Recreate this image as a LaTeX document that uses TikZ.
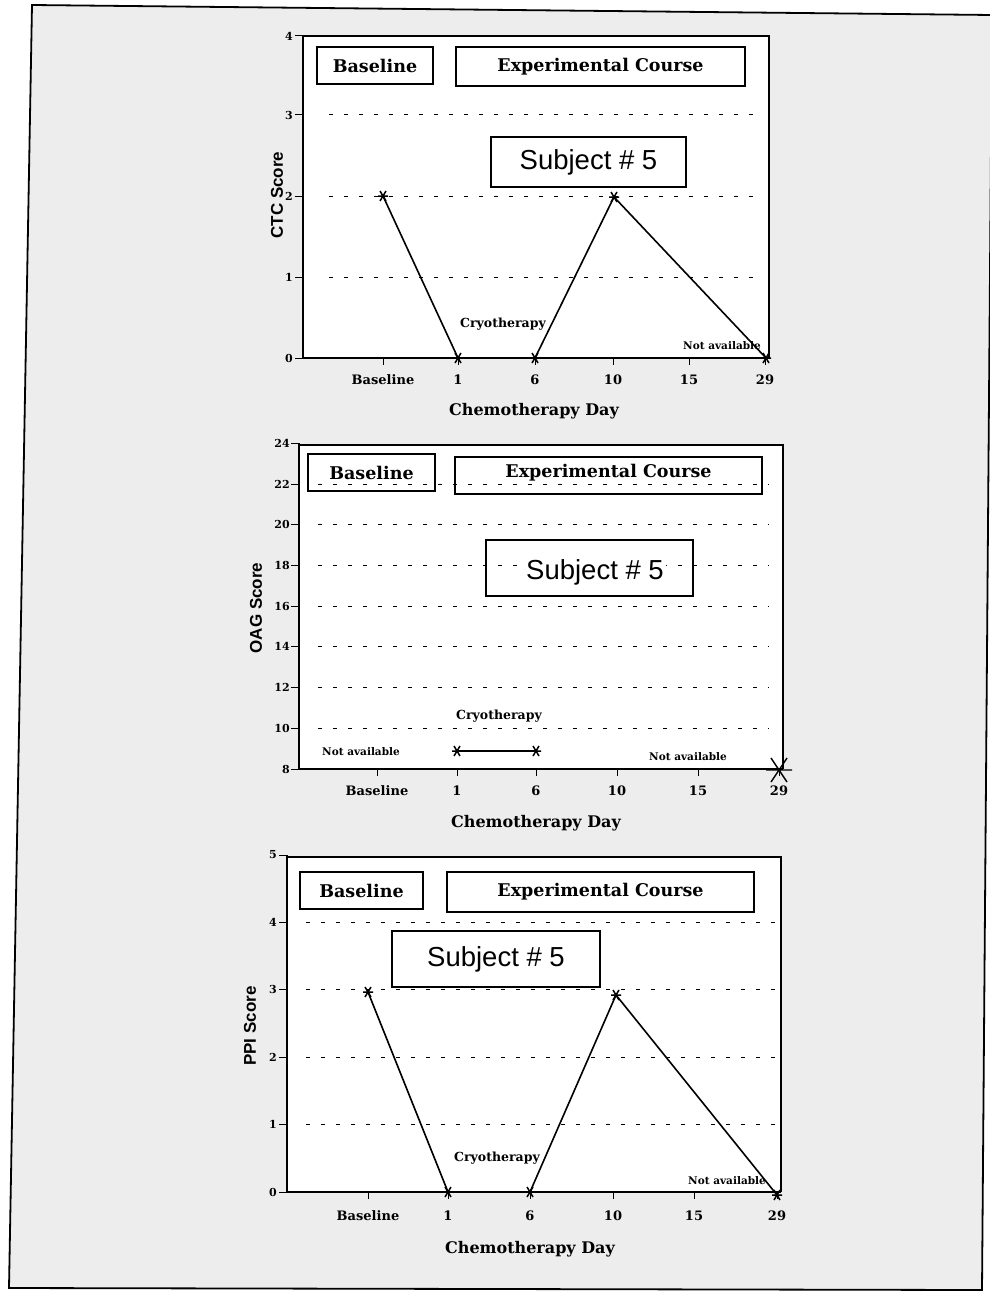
\documentclass[tikz,border=0pt]{standalone}
\usepackage{fontspec}
\setmainfont{DejaVu Serif}
\newfontfamily\arialf{Liberation Sans}
\newfontfamily\slabf{DejaVu Serif}
\begin{document}
\begin{tikzpicture}[x=1pt,y=-1pt,
  framebox/.style={draw=black,line width=1.4pt},
  axisline/.style={draw=black,line width=1.7pt},
  gridl/.style={draw=black,line width=1pt,dash pattern=on 4pt off 11pt},
  tickl/.style={draw=black,line width=1pt},
  labbox/.style={draw=black,line width=1.4pt},
  hdr/.style={font=\slabf\bfseries\fontsize{17.5}{19}\selectfont,inner sep=0pt},
  subj/.style={font=\arialf\fontsize{27.5}{30}\selectfont,inner sep=0pt},
  ylab/.style={font=\arialf\bfseries\fontsize{17}{19}\selectfont,rotate=90,inner sep=0pt},
  xlab/.style={font=\slabf\bfseries\fontsize{16}{18}\selectfont,inner sep=0pt},
  tnum/.style={font=\slabf\bfseries\fontsize{13}{15}\selectfont,inner sep=0pt},
  ynum/.style={font=\slabf\bfseries\fontsize{11}{13}\selectfont,inner sep=0pt},
  note/.style={font=\slabf\bfseries\fontsize{12.5}{14}\selectfont,inner sep=0pt},
  note2/.style={font=\slabf\bfseries\fontsize{10.5}{12}\selectfont,inner sep=0pt},
  dataline/.style={draw=black,line width=1.6pt},
  ast/.pic={\draw[line width=1.5pt] (-5,0)--(5,0) (-3,-5)--(3,5) (-3,5)--(3,-5);},
  bigast/.pic={\draw[line width=1.4pt] (-13,0)--(13,0) (-8,-12)--(8,12) (-8,12)--(8,-12);}
]
\useasboundingbox (0,0) rectangle (989,1295);
\fill[white] (0,0) rectangle (989,1295);
% outer frame (slightly tilted scan)
\filldraw[fill=black!7,draw=black,line width=1.8pt] (32,5) -- (992,15) -- (982,1290) -- (9,1288) -- cycle;

%================ Chart 1 : CTC =================
\fill[white] (303,36) rectangle (769,358);
\foreach \yy in {277,196,115} \draw[gridl] (329,\yy) -- (758,\yy);
\draw[framebox] (303,36) -- (769,36) -- (769,358);
\draw[axisline] (303,36) -- (303,358) -- (769,358);
\foreach \yy/\lab [count=\i] in {358/0,277/1,196/2,115/3,36/4} {
  \draw[tickl] (295,\yy) -- (303,\yy);
  \node[ynum,anchor=east] (c1y\i) at (293,\yy) {\lab};
}
\foreach \xx/\lab [count=\i] in {383/Baseline,458/1,535/6,613/10,689/15,765/29} {
  \draw[tickl] (\xx,358) -- (\xx,365);
  \node[tnum] (c1x\i) at (\xx,380) {\lab};
}
\node[xlab] (c1xt) at (534,411) {Chemotherapy Day};
\node[ylab] (c1yt) at (277,195) {CTC Score};
\node[labbox,minimum width=116pt,minimum height=37pt,inner sep=0pt] (c1base) at (375,65.5) {};
\node[hdr] (c1basetxt) at (c1base) {Baseline};
\node[labbox,minimum width=289pt,minimum height=39pt,inner sep=0pt] (c1exp) at (600.5,66.5) {};
\node[hdr] (c1exptxt) at (c1exp) {Experimental Course};
\node[labbox,minimum width=195pt,minimum height=50pt,inner sep=0pt] (c1sub) at (588.5,162) {};
\node[subj] (c1subtxt) at (c1sub) {Subject \# 5};
\coordinate (c1p1) at (383,196);
\coordinate (c1p2) at (458,358);
\coordinate (c1p3) at (535,358);
\coordinate (c1p4) at (614,197);
\coordinate (c1p5) at (766,358);
\draw[dataline] (c1p1) -- (c1p2) -- (c1p3) -- (c1p4) -- (c1p5);
\foreach \p in {c1p1,c1p2,c1p3,c1p4,c1p5} \pic at (\p) {ast};
\node[note] (c1cryo) at (503,324) {Cryotherapy};
\node[note2] (c1na) at (722,346) {Not available};

%================ Chart 2 : OAG =================
\fill[white] (299,445) rectangle (783,769);
\foreach \yy in {728.3,687.6,646.9,606.2,565.5,524.8,484.1} \draw[gridl] (318,\yy) -- (769,\yy);
\draw[framebox] (299,445) -- (783,445) -- (783,769);
\draw[axisline] (299,443) -- (299,769) -- (783,769);
\foreach \yy/\lab [count=\i] in {769/8,728.3/10,687.6/12,646.9/14,606.2/16,565.5/18,524.8/20,484.1/22,443.4/24} {
  \draw[tickl] (291,\yy) -- (299,\yy);
  \node[ynum,anchor=east] (c2y\i) at (290,\yy) {\lab};
}
\foreach \xx/\lab [count=\i] in {377/Baseline,457/1,536/6,617/10,698/15,779/29} {
  \draw[tickl] (\xx,769) -- (\xx,776);
  \node[tnum] (c2x\i) at (\xx,791) {\lab};
}
\node[xlab] (c2xt) at (536,823) {Chemotherapy Day};
\node[ylab] (c2yt) at (256,608) {OAG Score};
\node[labbox,minimum width=127pt,minimum height=37pt,inner sep=0pt] (c2base) at (371.5,472.5) {};
\node[hdr] (c2basetxt) at (c2base) {Baseline};
\node[labbox,minimum width=307pt,minimum height=37pt,inner sep=0pt] (c2exp) at (608.5,475.5) {};
\node[hdr] (c2exptxt) at (608.5,473) {Experimental Course};
\node[labbox,minimum width=207pt,minimum height=56pt,inner sep=0pt] (c2sub) at (589.5,568) {};
\node[subj,fill=white,inner sep=2pt] (c2subtxt) at (595,572) {Subject \# 5};
\coordinate (c2p1) at (457,751);
\coordinate (c2p2) at (536,751);
\draw[dataline] (c2p1) -- (c2p2);
\foreach \p in {c2p1,c2p2} \pic at (\p) {ast};
\coordinate (c2p3) at (779,770);
\pic at (c2p3) {bigast};
\node[note] (c2cryo) at (499,716) {Cryotherapy};
\node[note2] (c2na1) at (361,752) {Not available};
\node[note2] (c2na2) at (688,757) {Not available};

%================ Chart 3 : PPI =================
\fill[white] (287,857) rectangle (781,1192);
\foreach \yy in {1124.6,1057.2,989.8,922.4} \draw[gridl] (306,\yy) -- (778,\yy);
\draw[framebox] (287,857) -- (781,857) -- (781,1192);
\draw[axisline] (287,855) -- (287,1192) -- (781,1192);
\foreach \yy/\lab [count=\i] in {1192/0,1124.6/1,1057.2/2,989.8/3,922.4/4,855/5} {
  \draw[tickl] (279,\yy) -- (287,\yy);
  \node[ynum,anchor=east] (c3y\i) at (277,\yy) {\lab};
}
\foreach \xx/\lab [count=\i] in {368/Baseline,448/1,530/6,613/10,694/15,777/29} {
  \draw[tickl] (\xx,1192) -- (\xx,1199);
  \node[tnum] (c3x\i) at (\xx,1216) {\lab};
}
\node[xlab] (c3xt) at (530,1249) {Chemotherapy Day};
\node[ylab] (c3yt) at (250,1026) {PPI Score};
\node[labbox,minimum width=123pt,minimum height=37pt,inner sep=0pt] (c3base) at (361.5,890.5) {};
\node[hdr] (c3basetxt) at (c3base) {Baseline};
\node[labbox,minimum width=307pt,minimum height=40pt,inner sep=0pt] (c3exp) at (600.5,892) {};
\node[hdr] (c3exptxt) at (c3exp) {Experimental Course};
\node[labbox,minimum width=208pt,minimum height=56pt,inner sep=0pt] (c3sub) at (496,959) {};
\node[subj] (c3subtxt) at (c3sub) {Subject \# 5};
\coordinate (c3p1) at (368,992);
\coordinate (c3p2) at (448,1192);
\coordinate (c3p3) at (530,1192);
\coordinate (c3p4) at (616,995);
\coordinate (c3p5) at (777,1195);
\draw[dataline] (c3p1) -- (c3p2) -- (c3p3) -- (c3p4) -- (c3p5);
\foreach \p in {c3p1,c3p2,c3p3,c3p4,c3p5} \pic at (\p) {ast};
\node[note] (c3cryo) at (497,1158) {Cryotherapy};
\node[note2] (c3na) at (727,1181) {Not available};
\end{tikzpicture}
\end{document}
